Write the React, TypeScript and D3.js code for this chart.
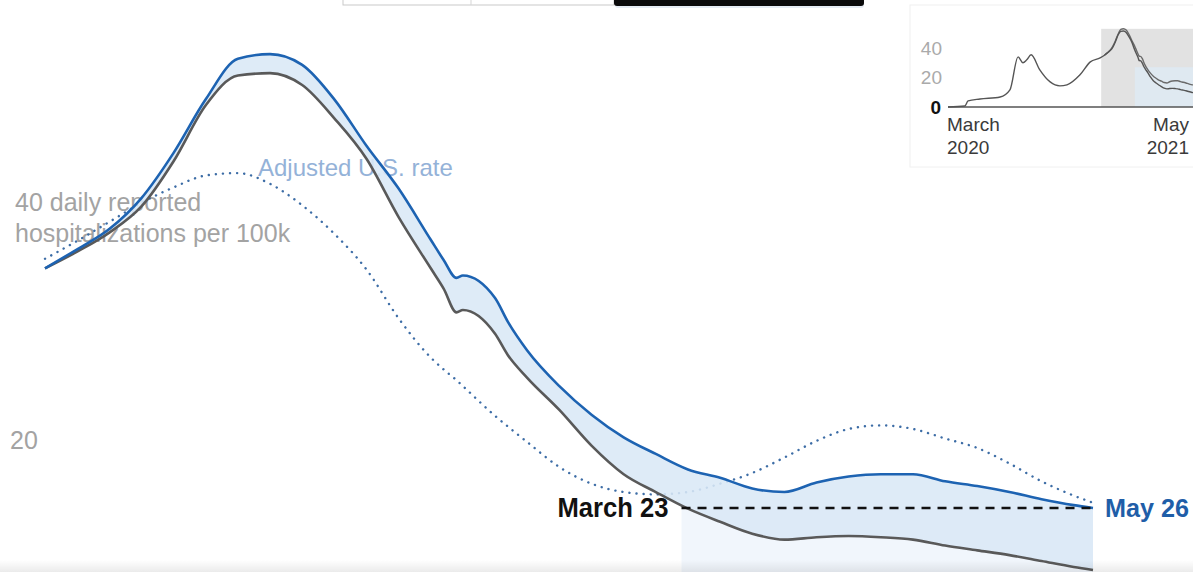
import React, { useEffect, useRef } from 'react';
import * as d3 from 'd3';

// main chart, mostly every five days from Dec 14 2020 to May 26 2021
const dates = [
  '2020-12-14', '2020-12-19', '2020-12-24', '2020-12-29',
  '2021-01-03', '2021-01-08', '2021-01-13', '2021-01-18', '2021-01-23', '2021-01-28',
  '2021-02-02', '2021-02-07', '2021-02-12', '2021-02-14', '2021-02-16', '2021-02-17',
  '2021-02-22', '2021-02-24', '2021-02-27',
  '2021-03-04', '2021-03-09', '2021-03-14', '2021-03-19', '2021-03-24', '2021-03-29',
  '2021-04-03', '2021-04-08', '2021-04-13', '2021-04-18', '2021-04-23', '2021-04-28',
  '2021-05-03', '2021-05-08', '2021-05-13', '2021-05-18', '2021-05-23', '2021-05-26',
];

// reported rate (gray line)
const reported = [
  35.1, 36.5, 38.1, 40.3, 44.1, 48.8, 51.3, 51.5, 50.5, 47.7,
  44.3, 39.4, 35.1, 33.4, 31.4, 31.6, 29.6, 27.8, 25.9,
  23.2, 20.2, 17.8, 16.3, 14.9, 13.8, 12.8, 12.3, 12.5, 12.6, 12.5, 12.3,
  11.8, 11.4, 11.0, 10.5, 10.0, 9.75,
];

// adjusted rate (blue line)
const adjusted = [
  35.1, 36.7, 38.4, 41.0, 44.8, 49.3, 52.7, 53.1, 52.2, 49.3,
  45.4, 41.8, 37.5, 35.8, 34.3, 34.5, 32.6, 30.6, 28.2,
  25.2, 22.8, 20.9, 19.5, 18.2, 17.5, 16.6, 16.3, 17.1, 17.6, 17.8, 17.8,
  17.2, 16.8, 16.3, 15.7, 15.2, 14.96,
];

// adjusted U.S. rate (dotted line)
const usAdjusted = [
  35.9, 37.4, 39.0, 40.6, 41.9, 42.9, 43.1, 42.2, 40.4, 38.0,
  35.0, 30.9, 27.6, 26.6, 25.7, 25.2, 22.7, 21.8, 20.5,
  18.4, 17.0, 16.3, 16.1, 16.3, 17.0, 17.9, 19.2, 20.6, 21.6, 21.9, 21.6,
  20.8, 20.0, 18.7, 17.2, 16.0, 15.4,
];

const yTicks = [20, 40];

// inset history before the main window
const historyDates = [
  '2020-03-01', '2020-04-01', '2020-04-07', '2020-04-29', '2020-06-05', '2020-06-23',
  '2020-07-08', '2020-07-17', '2020-07-24', '2020-08-01', '2020-08-17', '2020-09-05',
  '2020-09-23', '2020-10-06', '2020-10-30', '2020-11-18', '2020-12-06',
];
const historyValues = [
  0, 0.7, 4.1, 5.4, 6.8, 11.6, 34, 30, 32, 35.4, 25.2, 17, 14.3, 15, 21.8, 30.6, 33.3,
];
const insetTicks = [0, 20, 40];

const markerFrom = '2021-03-23';
const windowStart = '2020-12-08';
const highlightStart = '2021-02-08';
const highlightTop = 27;
const windowTop = 53;

const width = 1193;
const height = 572;
const font = "'Liberation Sans', Arial, sans-serif";

const App: React.FC = () => {
  const svgRef = useRef<SVGSVGElement>(null);

  useEffect(() => {
    if (!svgRef.current) return;
    const svg = d3.select(svgRef.current);
    svg.selectAll('*').remove();

    const parse = d3.utcParse('%Y-%m-%d');
    const days = dates.map(d => parse(d) as Date);
    const last = days.length - 1;

    const x = d3.scaleUtc().domain([days[0], days[last]]).range([45, 1093]);
    const y = d3.scaleLinear().domain([0, 40]).range([686, 210]);

    const defs = svg.append('defs');
    const grad = defs
      .append('linearGradient')
      .attr('id', 'bottom-shade')
      .attr('x1', 0).attr('y1', 0).attr('x2', 0).attr('y2', 1);
    grad.append('stop').attr('offset', '0%').attr('stop-color', '#000').attr('stop-opacity', 0);
    grad.append('stop').attr('offset', '100%').attr('stop-color', '#000').attr('stop-opacity', 0.08);

    svg.append('rect').attr('width', width).attr('height', height).attr('fill', '#fff');

    // toggle buttons peeking in at the top
    svg.append('rect')
      .attr('x', 343).attr('y', -6).attr('width', 271).attr('height', 11)
      .attr('fill', '#fff').attr('stroke', '#c9c9c9');
    svg.append('line')
      .attr('x1', 471).attr('x2', 471).attr('y1', 0).attr('y2', 5)
      .attr('stroke', '#d5d5d5');
    svg.append('rect')
      .attr('x', 615).attr('y', -6).attr('width', 249).attr('height', 14).attr('rx', 3)
      .attr('fill', '#d6e0ec').attr('opacity', 0.6);
    svg.append('rect')
      .attr('x', 614).attr('y', -6).attr('width', 250).attr('height', 12).attr('rx', 3)
      .attr('fill', '#0a0a0a');

    const markerX = x(parse(markerFrom) as Date);
    const endY = y(adjusted[last]);

    // pale highlight under the comparison line
    svg.append('rect')
      .attr('x', markerX)
      .attr('y', endY)
      .attr('width', x(days[last]) - markerX)
      .attr('height', height - endY)
      .attr('fill', '#f1f6fc');

    // axis labels (lines are drawn over them)
    svg.append('text')
      .attr('x', 15).attr('y', y(40) + 1)
      .attr('font-family', font).attr('font-size', 25).attr('fill', '#a3a3a3')
      .text('40 daily reported');
    svg.append('text')
      .attr('x', 15).attr('y', y(40) + 32)
      .attr('font-family', font).attr('font-size', 25).attr('fill', '#a3a3a3')
      .text('hospitalizations per 100k');
    svg.selectAll('.ytick')
      .data(yTicks.filter(t => t !== 40))
      .enter()
      .append('text')
      .attr('class', 'ytick')
      .attr('x', 10).attr('y', d => y(d) + 1)
      .attr('font-family', font).attr('font-size', 25).attr('fill', '#a3a3a3')
      .text(d => d);

    svg.append('text')
      .attr('x', 258).attr('y', 176)
      .attr('font-family', font).attr('font-size', 24).attr('fill', '#94b2d8')
      .text('Adjusted U.S. rate');

    const line = (vals: number[]) =>
      d3.line<number>()
        .x((_, i) => x(days[i]))
        .y(d => y(d))
        .curve(d3.curveMonotoneX)(vals);

    svg.append('path')
      .attr('d', line(usAdjusted))
      .attr('fill', 'none')
      .attr('stroke', '#3d6da6')
      .attr('stroke-width', 2.4)
      .attr('stroke-linecap', 'round')
      .attr('stroke-dasharray', '0.1,7');

    const band = d3.area<number>()
      .x((_, i) => x(days[i]))
      .y0((_, i) => y(reported[i]))
      .y1(d => y(d))
      .curve(d3.curveMonotoneX);
    svg.append('path')
      .attr('d', band(adjusted))
      .attr('fill', '#dae8f6')
      .attr('opacity', 0.88);

    svg.append('path')
      .attr('d', line(reported))
      .attr('fill', 'none')
      .attr('stroke', '#595959')
      .attr('stroke-width', 2.6);
    svg.append('path')
      .attr('d', line(adjusted))
      .attr('fill', 'none')
      .attr('stroke', '#1d63b2')
      .attr('stroke-width', 2.6);

    // March 23 -> May 26 comparison
    svg.append('line')
      .attr('x1', markerX).attr('x2', x(days[last]))
      .attr('y1', endY).attr('y2', endY)
      .attr('stroke', '#111')
      .attr('stroke-width', 2.6)
      .attr('stroke-dasharray', '9,7');
    svg.append('text')
      .attr('x', markerX - 13).attr('y', endY + 9)
      .attr('text-anchor', 'end')
      .attr('font-family', font).attr('font-size', 27).attr('font-weight', 'bold')
      .attr('textLength', 111).attr('lengthAdjust', 'spacingAndGlyphs')
      .attr('fill', '#111')
      .text('March 23');
    svg.append('text')
      .attr('x', x(days[last]) + 12).attr('y', endY + 9)
      .attr('font-family', font).attr('font-size', 26).attr('font-weight', 'bold')
      .attr('textLength', 84).attr('lengthAdjust', 'spacingAndGlyphs')
      .attr('fill', '#1f5ea8')
      .text('May 26');

    // inset overview
    const inset = svg.append('g');
    inset.append('rect')
      .attr('x', 910).attr('y', 5).attr('width', 300).attr('height', 162)
      .attr('fill', '#fff').attr('stroke', '#f0f0f0');

    const histDays = historyDates.map(d => parse(d) as Date);
    const ix = d3.scaleUtc()
      .domain([histDays[0], days[last]])
      .range([948, 1193]);
    const iy = d3.scaleLinear().domain([0, 40]).range([107, 48]);

    const wx = ix(parse(windowStart) as Date);
    inset.append('rect')
      .attr('x', wx).attr('y', iy(windowTop))
      .attr('width', 1193 - wx).attr('height', iy(0) - iy(windowTop))
      .attr('fill', '#e2e2e2');
    const hx = ix(parse(highlightStart) as Date);
    inset.append('rect')
      .attr('x', hx).attr('y', iy(highlightTop))
      .attr('width', 1193 - hx).attr('height', iy(0) - iy(highlightTop))
      .attr('fill', '#dfe9f1');

    const fullDays = histDays.concat(days);
    const fullVals = historyValues.concat(reported);
    const iline = d3.line<number>()
      .x((_, i) => ix(fullDays[i]))
      .y(d => iy(d))
      .curve(d3.curveMonotoneX);
    const iline2 = d3.line<number>()
      .x((_, i) => ix(days[i]))
      .y(d => iy(d))
      .curve(d3.curveMonotoneX);

    inset.append('path')
      .attr('d', iline2(adjusted))
      .attr('fill', 'none').attr('stroke', '#6a6a6a').attr('stroke-width', 1.4);
    inset.append('path')
      .attr('d', iline(fullVals))
      .attr('fill', 'none').attr('stroke', '#555').attr('stroke-width', 1.4);

    inset.append('line')
      .attr('x1', 948).attr('x2', 1193)
      .attr('y1', iy(0)).attr('y2', iy(0))
      .attr('stroke', '#555').attr('stroke-width', 1.5);

    inset.selectAll('.itick')
      .data(insetTicks)
      .enter()
      .append('text')
      .attr('class', 'itick')
      .attr('x', d => (d === 0 ? 941 : 942))
      .attr('y', d => iy(d))
      .attr('dy', '0.35em')
      .attr('text-anchor', 'end')
      .attr('font-family', font)
      .attr('font-size', 19)
      .attr('font-weight', d => (d === 0 ? 'bold' : 'normal'))
      .attr('fill', d => (d === 0 ? '#111' : '#aaa'))
      .text(d => d);

    const dateLabel = (lines: string[], xPos: number, anchor: string) => {
      lines.forEach((t, i) => {
        inset.append('text')
          .attr('x', xPos).attr('y', 131 + i * 23)
          .attr('text-anchor', anchor)
          .attr('font-family', font).attr('font-size', 19).attr('fill', '#3a3a3a')
          .text(t);
      });
    };
    dateLabel(['March', '2020'], 947, 'start');
    dateLabel(['May', '2021'], 1189, 'end');

    // shadow at the bottom edge of the screenshot
    svg.append('rect')
      .attr('x', 0).attr('y', 560).attr('width', width).attr('height', 12)
      .attr('fill', 'url(#bottom-shade)');
  }, []);

  return (
    <svg
      ref={svgRef}
      width={width}
      height={height}
      style={{ position: 'absolute', left: 0, top: 0 }}
    />
  );
};

export default App;
